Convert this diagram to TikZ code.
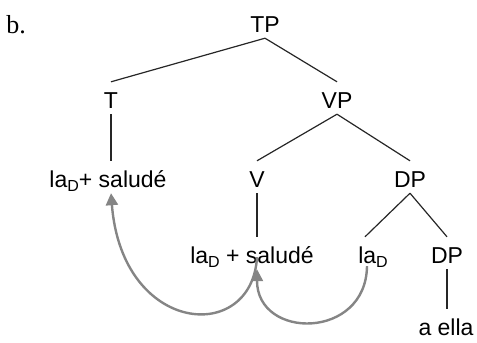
\documentclass[tikz,border=0pt]{standalone}
\usepackage{fontspec}
\setmainfont{Liberation Serif}
\setsansfont{Liberation Sans}
\usepackage{xcolor}
\usetikzlibrary{arrows.meta}
\definecolor{movegray}{HTML}{858585}
\newcommand{\laD}{la\raisebox{-0.4ex}{\fontsize{16}{16}\selectfont D}}

\begin{document}
\begin{tikzpicture}[x=1pt, y=-1pt,
    lbl/.style={anchor=base, inner sep=0pt, text height=26pt, text depth=6pt,
        font=\sffamily\fontsize{23}{27}\selectfont},
    edge/.style={line width=1.2pt, black!85},
    mv/.style={line width=2.4pt, movegray, -{Triangle[length=12pt, width=12pt]}}]
    \useasboundingbox (0,0) rectangle (477,343);

    \node (b) at (16, 33) [anchor=base, inner sep=0pt, font=\fontsize{26}{28}\selectfont] {b.};

    \node (TP) at (265, 32) [lbl] {TP};
    \node (T) at (111, 108) [lbl] {T};
    \node (VP) at (337, 108) [lbl] {VP};
    \node (Tlab) at (108, 187) [lbl] {\laD+ saludé};
    \node (V) at (257, 187) [lbl] {V};
    \node (DP) at (410, 187) [lbl] {DP};
    \node (Vlab) at (252, 263) [lbl] {\laD{} + saludé};
    \node (cl) at (373, 263) [lbl] {\laD};
    \node (DPb) at (447, 263) [lbl] {DP};
    \node (ella) at (446, 335) [lbl] {a ella};

    \draw[edge] (TP.south) -- (T.north);
    \draw[edge] (TP.south) -- (VP.north);
    \draw[edge] (T.south) -- (T.south |- Tlab.north);
    \draw[edge] (VP.south) -- (V.north);
    \draw[edge] (VP.south) -- (DP.north);
    \draw[edge] (V.south) -- (V.south |- Vlab.north);
    \draw[edge] (DP.south) -- ([xshift=-8pt]cl.north);
    \draw[edge] (DP.south) -- (DPb.north);
    \draw[edge] (DPb.south) -- (DPb.south |- ella.north);

    % head movement
    \draw[mv] ([xshift=-6pt, yshift=3pt]cl.south) .. controls (366,340) and (257,340) .. (V |- Vlab.south);
    \draw[mv] ([yshift=12pt]V |- Vlab.south) .. controls (252,345) and (122,335) .. ([xshift=3pt]Tlab.south);
\end{tikzpicture}
\end{document}
